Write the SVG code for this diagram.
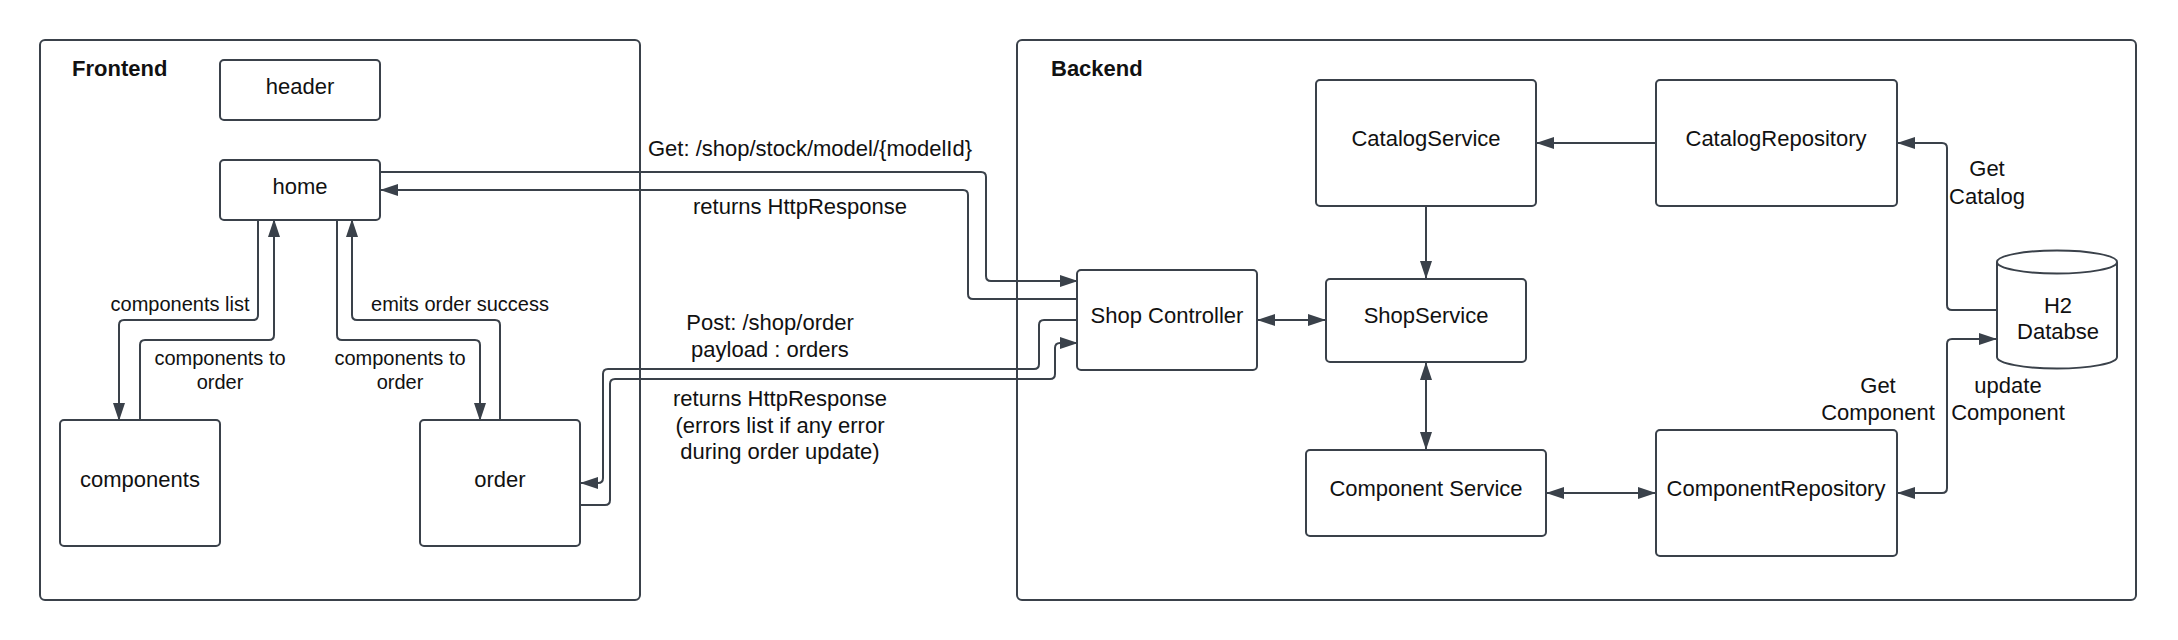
<svg xmlns="http://www.w3.org/2000/svg" width="2178" height="640" viewBox="0 0 2178 640">
<style>
.c{fill:none;stroke:#3a414a;stroke-width:2}
.b{fill:#fff;stroke:#3a414a;stroke-width:2}
.t{font-family:"Liberation Sans",Arial,sans-serif;font-size:22px;fill:#111;text-anchor:middle}
.s{font-size:20px}
.h{font-family:"Liberation Sans",Arial,sans-serif;font-size:22px;font-weight:bold;fill:#111}
.l{fill:none;stroke:#3a414a;stroke-width:2}
</style>
<defs>
<marker id="ae" viewBox="0 0 18 12" refX="17" refY="6" markerWidth="18" markerHeight="12" markerUnits="userSpaceOnUse" orient="auto">
<path d="M0,0 L18,6 L0,12 Z" fill="#3a414a"/>
</marker>
<marker id="as" viewBox="0 0 18 12" refX="1" refY="6" markerWidth="18" markerHeight="12" markerUnits="userSpaceOnUse" orient="auto">
<path d="M18,0 L0,6 L18,12 Z" fill="#3a414a"/>
</marker>
</defs>
<rect width="2178" height="640" fill="#fff"/>
<g id="frontend">
<rect class="c" x="40" y="40" width="600" height="560" rx="5"/>
<text class="h" x="72" y="76">Frontend</text>
</g>
<g id="backend">
<rect class="c" x="1017" y="40" width="1119" height="560" rx="5"/>
<text class="h" x="1051" y="76">Backend</text>
</g>
<g id="connectors">
<path class="l" d="M258,220 V315 Q258,320 253,320 H124 Q119,320 119,325 V420" marker-end="url(#ae)"/>
<path class="l" d="M140,420 V345 Q140,340 145,340 H269 Q274,340 274,335 V220" marker-end="url(#ae)"/>
<path class="l" d="M337,220 V335 Q337,340 342,340 H475 Q480,340 480,345 V420" marker-end="url(#ae)"/>
<path class="l" d="M500,420 V325 Q500,320 495,320 H357 Q352,320 352,315 V220" marker-end="url(#ae)"/>
<path class="l" d="M380,172 H981 Q986,172 986,177 V276 Q986,281 991,281 H1077" marker-end="url(#ae)"/>
<path class="l" d="M1077,299 H973 Q968,299 968,294 V195 Q968,190 963,190 H381" marker-end="url(#ae)"/>
<path class="l" d="M580,505 H605 Q610,505 610,500 V384 Q610,379 615,379 H1050 Q1055,379 1055,374 V348 Q1055,343 1060,343 H1077" marker-end="url(#ae)"/>
<path class="l" d="M1077,320 H1044 Q1039,320 1039,325 V364 Q1039,369 1034,369 H608 Q603,369 603,374 V478 Q603,483 598,483 H581" marker-end="url(#ae)"/>
<path class="l" d="M1258,320 H1325" marker-start="url(#as)" marker-end="url(#ae)"/>
<path class="l" d="M1426,206 V278" marker-end="url(#ae)"/>
<path class="l" d="M1426,363 V449" marker-start="url(#as)" marker-end="url(#ae)"/>
<path class="l" d="M1547,493 H1655" marker-start="url(#as)" marker-end="url(#ae)"/>
<path class="l" d="M1656,143 H1537" marker-end="url(#ae)"/>
<path class="l" d="M1997,310 H1952 Q1947,310 1947,305 V148 Q1947,143 1942,143 H1898" marker-end="url(#ae)"/>
<path class="l" d="M1898,493 H1942 Q1947,493 1947,488 V344 Q1947,339 1952,339 H1996" marker-start="url(#as)" marker-end="url(#ae)"/>
<text class="t s" x="180" y="311">components list</text>
<text class="t s" x="220" y="365">components to</text>
<text class="t s" x="220" y="389">order</text>
<text class="t s" x="400" y="365">components to</text>
<text class="t s" x="400" y="389">order</text>
<text class="t s" x="460" y="311">emits order success</text>
<text class="t" x="810" y="156">Get: /shop/stock/model/{modelId}</text>
<text class="t" x="800" y="214">returns HttpResponse</text>
<text class="t" x="770" y="330">Post: /shop/order</text>
<text class="t" x="770" y="357">payload : orders</text>
<text class="t" x="780" y="406">returns HttpResponse</text>
<text class="t" x="780" y="433">(errors list if any error</text>
<text class="t" x="780" y="459">during order update)</text>
<text class="t" x="1987" y="176">Get</text>
<text class="t" x="1987" y="204">Catalog</text>
<text class="t" x="1878" y="393">Get</text>
<text class="t" x="1878" y="420">Component</text>
<text class="t" x="2008" y="393">update</text>
<text class="t" x="2008" y="420">Component</text>
</g>
<g id="header"><rect class="b" x="220" y="60" width="160" height="60" rx="4"/><text class="t" x="300" y="94">header</text></g>
<g id="home"><rect class="b" x="220" y="160" width="160" height="60" rx="4"/><text class="t" x="300" y="194">home</text></g>
<g id="components"><rect class="b" x="60" y="420" width="160" height="126" rx="4"/><text class="t" x="140" y="487">components</text></g>
<g id="order"><rect class="b" x="420" y="420" width="160" height="126" rx="4"/><text class="t" x="500" y="487">order</text></g>
<g id="shop-controller"><rect class="b" x="1077" y="270" width="180" height="100" rx="4"/><text class="t" x="1167" y="323">Shop Controller</text></g>
<g id="catalog-service"><rect class="b" x="1316" y="80" width="220" height="126" rx="4"/><text class="t" x="1426" y="146">CatalogService</text></g>
<g id="catalog-repository"><rect class="b" x="1656" y="80" width="241" height="126" rx="4"/><text class="t" x="1776" y="146">CatalogRepository</text></g>
<g id="shop-service"><rect class="b" x="1326" y="279" width="200" height="83" rx="4"/><text class="t" x="1426" y="323">ShopService</text></g>
<g id="component-service"><rect class="b" x="1306" y="450" width="240" height="86" rx="4"/><text class="t" x="1426" y="496">Component Service</text></g>
<g id="component-repository"><rect class="b" x="1656" y="430" width="241" height="126" rx="4"/><text class="t" x="1776" y="496">ComponentRepository</text></g>
<g id="h2-database">
<path class="b" d="M1997,262 A60,11.5 0 0 1 2117,262 V357 A60,11.5 0 0 1 1997,357 Z"/>
<path class="c" d="M1997,262 A60,11.5 0 0 0 2117,262"/>
<text class="t" x="2058" y="313">H2</text>
<text class="t" x="2058" y="339">Databse</text>
</g>
</svg>
